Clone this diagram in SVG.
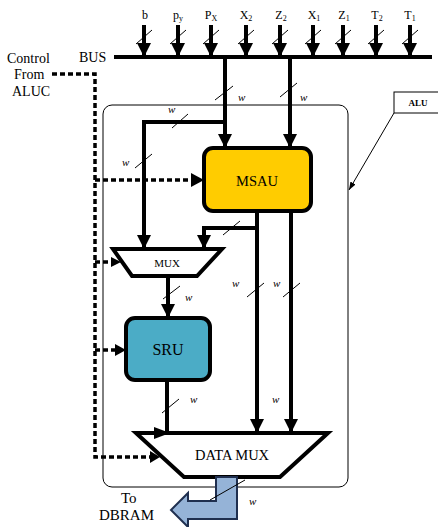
<svg xmlns="http://www.w3.org/2000/svg" width="438" height="527" viewBox="0 0 438 527">
<style>
.t{font-family:"Liberation Serif",serif;fill:#000}
.w{font-family:"Liberation Serif",serif;font-style:italic;font-size:11px}
.th{stroke:#000;stroke-width:4;fill:none}
.sl{stroke:#000;stroke-width:1;fill:none}
.dash{stroke:#000;stroke-width:3.5;fill:none;stroke-dasharray:5 3}
</style>
<defs>
<marker id="ah" markerUnits="userSpaceOnUse" markerWidth="14" markerHeight="14" refX="14" refY="7" orient="auto"><path d="M0,0 L14,7 L0,14 z" fill="#000"/></marker>
<marker id="ahn" markerUnits="userSpaceOnUse" markerWidth="8" markerHeight="8" refX="8" refY="4" orient="auto"><path d="M0,1 L8,4 L0,7 z" fill="#000"/></marker>
</defs>
<rect width="438" height="527" fill="#fff"/>

<g id="alu-container"><rect x="103" y="105" width="245" height="382" rx="9" fill="none" stroke="#000" stroke-width="1"/></g>

<g id="alu-label"><rect x="394" y="92" width="46" height="21" fill="#fff" stroke="#000" stroke-width="1"/><text class="t" x="418" y="106" font-size="9" font-weight="bold" text-anchor="middle">ALU</text></g>

<g id="inputs">
<g class="t" font-size="12" text-anchor="middle">
<text x="145" y="19">b</text>
<text x="178" y="19">p<tspan font-size="8" dy="2">y</tspan></text>
<text x="211" y="19">P<tspan font-size="8" dy="2">X</tspan></text>
<text x="246" y="19">X<tspan font-size="8" dy="2">2</tspan></text>
<text x="281" y="19">Z<tspan font-size="8" dy="2">2</tspan></text>
<text x="314" y="19">X<tspan font-size="8" dy="2">1</tspan></text>
<text x="344" y="19">Z<tspan font-size="8" dy="2">1</tspan></text>
<text x="377" y="19">T<tspan font-size="8" dy="2">2</tspan></text>
<text x="410" y="19">T<tspan font-size="8" dy="2">1</tspan></text>
</g>
</g>

<g id="bus">
<text class="t" x="79" y="62" font-size="14">BUS</text>
<line x1="114" y1="57" x2="432" y2="57" stroke="#000" stroke-width="4"/>
</g>

<g id="control-label" class="t" font-size="14">
<text x="7" y="63">Control</text>
<text x="14" y="79">From</text>
<text x="12" y="96">ALUC</text>
</g>

<g id="MSAU"><rect x="204" y="148" width="107" height="63" rx="9" fill="#FFCC00" stroke="#000" stroke-width="4"/><text class="t" x="257" y="186" font-size="14.5" text-anchor="middle">MSAU</text></g>

<g id="MUX"><polygon points="113,249 222,249 197,276 132,276" fill="#fff" stroke="#000" stroke-width="4" stroke-linejoin="miter"/><text class="t" x="167" y="267" font-size="11" text-anchor="middle">MUX</text></g>

<g id="SRU"><rect x="126" y="318" width="84" height="62" rx="9" fill="#4BACC6" stroke="#000" stroke-width="4"/><text class="t" x="168" y="355" font-size="16" text-anchor="middle">SRU</text></g>

<g id="DATAMUX"><polygon points="136,433 328,433 280,477 184,477" fill="#fff" stroke="#000" stroke-width="4"/><text class="t" x="232" y="460" font-size="14.5" text-anchor="middle">DATA MUX</text></g>

<g id="connectors">
<g class="th">
<line x1="144" y1="25" x2="144" y2="57" marker-end="url(#ah)"/>
<line x1="178" y1="25" x2="178" y2="57" marker-end="url(#ah)"/>
<line x1="211" y1="25" x2="211" y2="57" marker-end="url(#ah)"/>
<line x1="246" y1="25" x2="246" y2="57" marker-end="url(#ah)"/>
<line x1="280" y1="25" x2="280" y2="57" marker-end="url(#ah)"/>
<line x1="313" y1="25" x2="313" y2="57" marker-end="url(#ah)"/>
<line x1="343" y1="25" x2="343" y2="57" marker-end="url(#ah)"/>
<line x1="376" y1="25" x2="376" y2="57" marker-end="url(#ah)"/>
<line x1="410" y1="25" x2="410" y2="57" marker-end="url(#ah)"/>
</g>
<g class="sl">
<line x1="136" y1="44" x2="152" y2="30"/>
<line x1="170" y1="44" x2="186" y2="30"/>
<line x1="203" y1="44" x2="219" y2="30"/>
<line x1="238" y1="44" x2="254" y2="30"/>
<line x1="272" y1="44" x2="288" y2="30"/>
<line x1="305" y1="44" x2="321" y2="30"/>
<line x1="335" y1="44" x2="351" y2="30"/>
<line x1="368" y1="44" x2="384" y2="30"/>
<line x1="402" y1="44" x2="418" y2="30"/>
</g>
<line class="th" x1="225" y1="57" x2="225" y2="148" marker-end="url(#ah)"/>
<line class="th" x1="290" y1="57" x2="290" y2="148" marker-end="url(#ah)"/>
<line class="sl" x1="215" y1="100" x2="233" y2="86"/>
<line class="sl" x1="280" y1="97" x2="297" y2="83"/>
<text class="w" x="238" y="101">w</text>
<text class="w" x="300" y="101">w</text>
<path class="th" d="M225,122 L144,122 L144,249" marker-end="url(#ah)"/>
<line class="sl" x1="172" y1="128" x2="188" y2="114"/>
<text class="w" x="168" y="113">w</text>
<line class="sl" x1="135" y1="168" x2="152" y2="154"/>
<text class="w" x="122" y="166">w</text>
<line class="th" x1="257" y1="211" x2="257" y2="433" marker-end="url(#ah)"/>
<line class="th" x1="291" y1="211" x2="291" y2="433" marker-end="url(#ah)"/>
<path class="th" d="M257,228 L204,228 L204,249" marker-end="url(#ah)"/>
<line class="sl" x1="223" y1="235" x2="240" y2="221"/>
<line class="sl" x1="247" y1="297" x2="264" y2="283"/>
<line class="sl" x1="283" y1="297" x2="300" y2="283"/>
<text class="w" x="232" y="287">w</text>
<text class="w" x="273" y="287">w</text>
<text class="w" x="272" y="403">w</text>
<line class="th" x1="168" y1="276" x2="168" y2="318" marker-end="url(#ah)"/>
<line class="sl" x1="163" y1="299" x2="180" y2="286"/>
<text class="w" x="185" y="301">w</text>
<line class="th" x1="167" y1="380" x2="167" y2="433"/>
<polygon points="154,427 170,433 154,439" fill="#000"/>
<line class="sl" x1="162" y1="413" x2="179" y2="399"/>
<text class="w" x="190" y="403">w</text>
<path class="dash" d="M52,74 L95,74 L95,457 L150,457"/>
<path d="M150,451 L160,457 L150,463 z" fill="#000"/>
<line class="dash" x1="95" y1="180" x2="192" y2="180"/>
<path d="M191,173 L204,180 L191,187 z" fill="#000"/>
<line class="dash" x1="95" y1="262" x2="112" y2="262"/>
<path d="M111,257 L121,262 L111,267 z" fill="#000"/>
<line class="dash" x1="95" y1="350" x2="116" y2="350"/>
<path d="M115,344 L126,350 L115,356 z" fill="#000"/>
<line x1="394" y1="113" x2="349" y2="190" stroke="#000" stroke-width="1" marker-end="url(#ahn)"/>
<polygon points="216,477 237,477 237,519 188,519 188,527 171,510 188,493 188,501 216,501" fill="#95B3D7" stroke="#1F2F4F" stroke-width="2"/>
<line class="sl" x1="210" y1="500" x2="245" y2="480"/>
<text class="w" x="249" y="505">w</text>
</g>
<g id="dbram-label" class="t" font-size="15">
<text x="121" y="503">To</text>
<text x="99" y="520">DBRAM</text>
</g>
</svg>
